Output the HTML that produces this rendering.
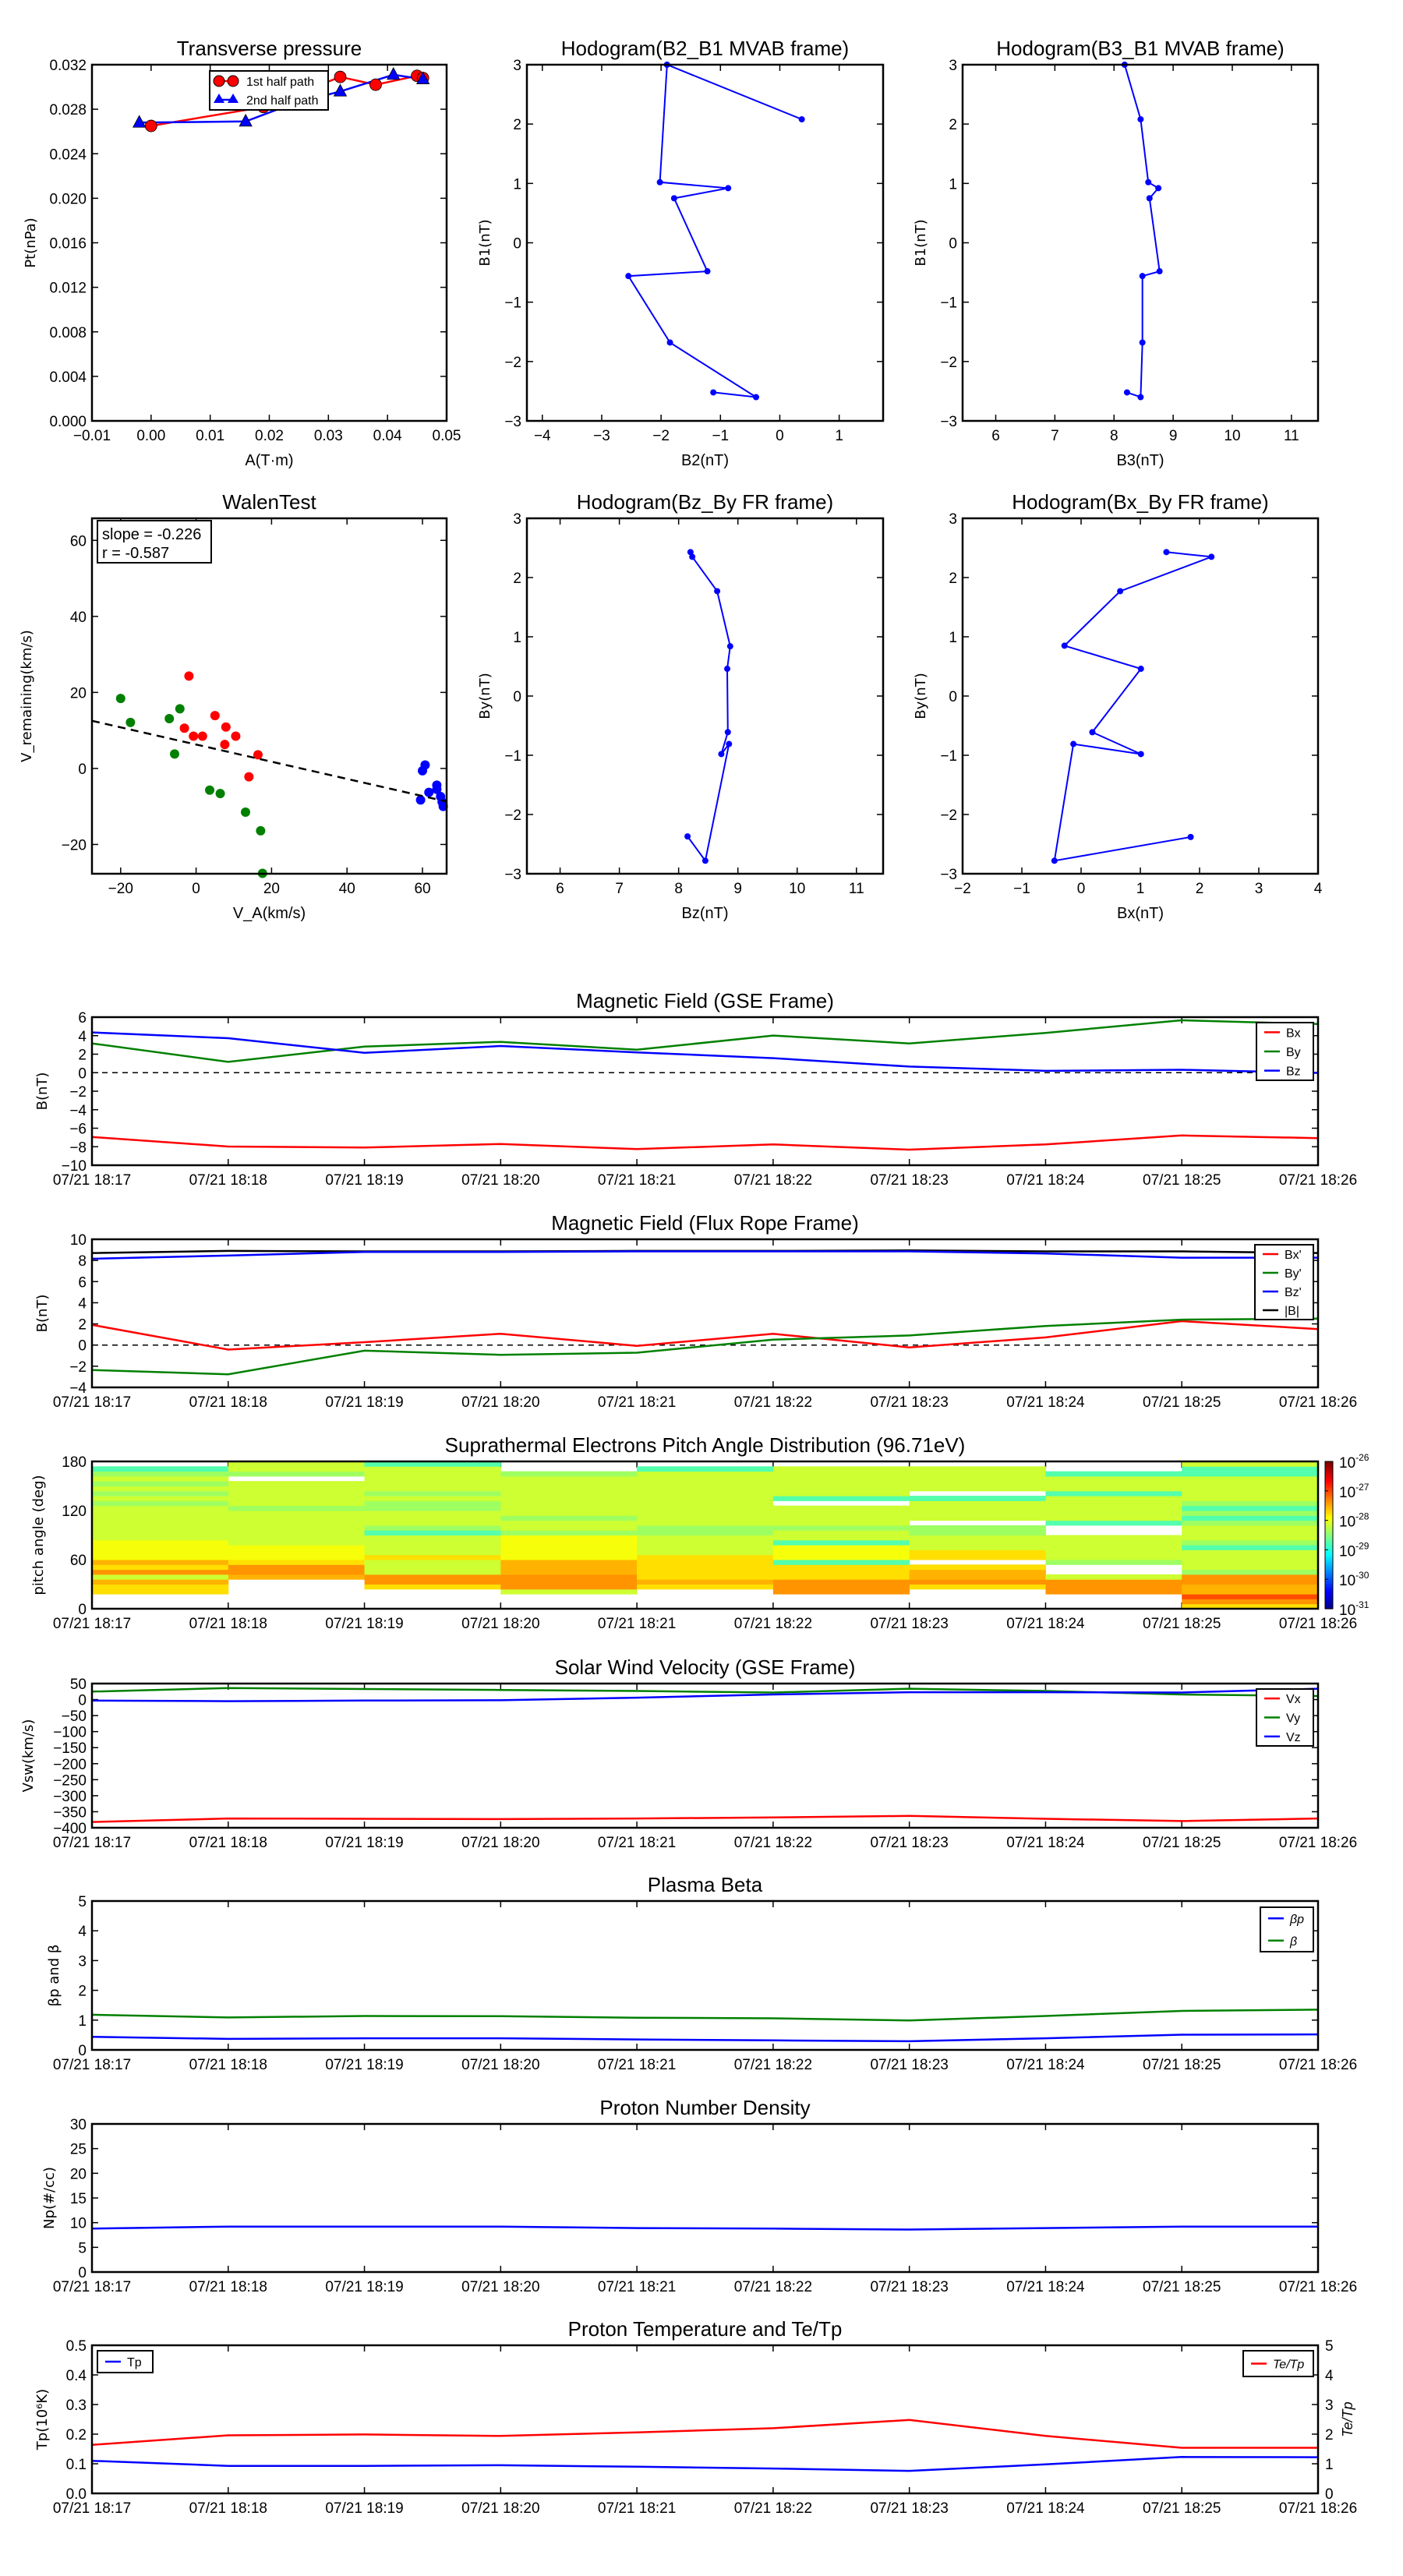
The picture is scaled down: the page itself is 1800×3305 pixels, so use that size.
<!DOCTYPE html>
<html><head><meta charset="utf-8"><style>
body{margin:0;background:#fff}
svg text{font-family:"Liberation Sans Narrow","Liberation Sans",sans-serif;fill:#000}
.yl{font-family:"DejaVu Sans","Liberation Sans",sans-serif}
</style></head><body>
<svg id="s" width="1800" height="3300" xmlns="http://www.w3.org/2000/svg"></svg>
<script>
// ---------- data ----------
const ptA1=[0.000,0.019,0.032,0.038,0.045,0.046];
const ptP1=[0.0265,0.0282,0.0309,0.0302,0.0310,0.0308];
const ptA2=[-0.002,0.016,0.024,0.032,0.041,0.046];
const ptP2=[0.0268,0.0269,0.0285,0.0296,0.0311,0.0307];
const h1B2=[-1.12,-0.4,-1.85,-2.55,-1.22,-1.78,-0.87,-2.02,-1.9,0.37];
const h1B1=[-2.52,-2.6,-1.68,-0.56,-0.48,0.75,0.92,1.02,3.0,2.08];
const h2B3=[8.22,8.45,8.48,8.48,8.77,8.6,8.75,8.58,8.45,8.18];
const h2B1=[-2.52,-2.6,-1.68,-0.56,-0.48,0.75,0.92,1.02,2.08,3.0];
const walRedX=[-1.9,-3.1,-0.7,1.7,5,7.9,7.6,10.5,16.4,14];
const walRedY=[24.3,10.6,8.5,8.5,13.9,10.9,6.3,8.5,3.6,-2.2];
const walGreenX=[-20,-17.4,-7.1,-4.3,-5.7,3.6,6.4,13.1,17.1,17.6];
const walGreenY=[18.4,12.1,13.1,15.7,3.8,-5.7,-6.6,-11.5,-16.4,-27.6];
const walBlueX=[60,60.7,63.8,63.8,61.7,59.5,64.8,65.2,65.5];
const walBlueY=[-0.6,0.9,-4.4,-5.5,-6.3,-8.3,-7.4,-8.8,-10];
const walSlope=-0.226, walIntercept=6.3;
const frBz=[8.2,8.23,8.65,8.87,8.82,8.83,8.72,8.85,8.45,8.15];
const frBy=[2.43,2.35,1.77,0.84,0.46,-0.61,-0.98,-0.81,-2.78,-2.37];
const frBx=[1.44,2.2,0.66,-0.28,1.01,0.19,1.01,-0.13,-0.45,1.85];
const frBxBy=[2.43,2.35,1.77,0.85,0.46,-0.61,-0.98,-0.81,-2.78,-2.38];
const timeLabels=["07/21 18:17","07/21 18:18","07/21 18:19","07/21 18:20","07/21 18:21","07/21 18:22","07/21 18:23","07/21 18:24","07/21 18:25","07/21 18:26"];
const gseBx=[-6.95,-7.98,-8.09,-7.7,-8.26,-7.75,-8.32,-7.75,-6.78,-7.07];
const gseBy=[3.16,1.17,2.82,3.33,2.48,4.01,3.16,4.3,5.66,5.26];
const gseBz=[4.35,3.73,2.14,2.88,2.19,1.57,0.66,0.2,0.32,-0.02];
const fBx=[1.91,-0.43,0.27,1.07,-0.07,1.07,-0.22,0.72,2.26,1.51];
const fBy=[-2.36,-2.76,-0.53,-0.92,-0.72,0.52,0.91,1.81,2.4,2.5];
const fBz=[8.16,8.46,8.81,8.81,8.86,8.86,8.86,8.66,8.26,8.26];
const fBt=[8.7,8.9,8.86,8.86,8.9,8.9,8.95,8.86,8.86,8.7];
const vx=[-382,-371,-372,-373,-371,-368,-363,-372,-379,-371];
const vy=[25,36,33,30,27,22,34,27,16,11];
const vz=[-3,-5,-3,-2,6,16,23,23,22,34];
const betaP=[0.44,0.37,0.39,0.39,0.35,0.32,0.29,0.39,0.51,0.52];
const betaT=[1.18,1.09,1.14,1.13,1.08,1.06,0.99,1.14,1.31,1.35];
const np=[8.8,9.2,9.2,9.2,8.9,8.8,8.6,8.9,9.2,9.2];
const tp=[0.11,0.093,0.093,0.095,0.09,0.084,0.076,0.098,0.123,0.122];
const teTp=[1.64,1.96,1.99,1.94,2.06,2.2,2.48,1.94,1.54,1.54];
// PAD: 30 bins of 6 deg (bottom->top), codes -> log10 flux
const padCols=[
"   YYolOYoyyyylllllllglglglgc ",
"      oOOYyyylllllllglllll gll",
"    YOOlllYllllcglllgglglllllc",
"   lOOOoooyyyyygllgllllllllg  ",
"    YoYYYYYllllgglllllllllllc ",
"   OOOYYYcyyycllgllll cllllll ",
"    YOooY YYlllgg llllc lllll ",
"   OOOl  glllll  clllllclllc  ",
"YOrooOOgllllcglllgcgcglllllccl"];
const padCode={"Y":-27.72,"o":-27.5,"O":-27.35,"r":-27.0,"y":-27.92,"l":-28.12,"g":-28.35,"c":-28.72};
// ---------- helpers ----------
const S=document.getElementById('s');const NS='http://www.w3.org/2000/svg';
function el(t,a,p){const e=document.createElementNS(NS,t);for(const k in a)e.setAttribute(k,a[k]);(p||S).appendChild(e);return e;}
function txt(x,y,s,o){o=o||{};const e=el('text',{x:x,y:y,'font-size':o.size||19,'text-anchor':o.anchor||'middle',fill:o.fill||'#000'},o.parent);if(o.cls)e.setAttribute('class',o.cls);if(o.rot)e.setAttribute('transform','rotate('+o.rot+' '+x+' '+y+')');e.textContent=s;return e;}
function axes(c){
 const g=el('g',{});
 const sx=v=>c.x0+(v-c.xmin)/(c.xmax-c.xmin)*(c.x1-c.x0);
 const sy=v=>c.y1-(v-c.ymin)/(c.ymax-c.ymin)*(c.y1-c.y0);
 c.g=g;c.sx=sx;c.sy=sy;
 const tl=8;
 const xg=el('g',{},g);
 c.xticks.forEach((v,i)=>{const x=sx(v);el('line',{x1:x,x2:x,y1:c.y1,y2:c.y1-tl,stroke:'#000','stroke-width':1.5},xg);el('line',{x1:x,x2:x,y1:c.y0,y2:c.y0+tl,stroke:'#000','stroke-width':1.5},xg);
  const t=txt(x,c.y1+25,c.xlab?c.xlab[i]:fmt(v,c.xdec),{size:c.tsize||19,parent:xg});});
 const yg=el('g',{},g);
 c.yticks.forEach((v,i)=>{const y=sy(v);el('line',{x1:c.x0,x2:c.x0+tl,y1:y,y2:y,stroke:'#000','stroke-width':1.5},yg);el('line',{x1:c.x1,x2:c.x1-tl,y1:y,y2:y,stroke:'#000','stroke-width':1.5},yg);
  const t=txt(c.x0-7,y+7,fmt(v,c.ydec),{size:19,anchor:'end',parent:yg});});
 c.frame=()=>el('rect',{x:c.x0,y:c.y0,width:c.x1-c.x0,height:c.y1-c.y0,fill:'none',stroke:'#000','stroke-width':2.5},g);
 if(c.title){const t=txt((c.x0+c.x1)/2,c.y0-12,c.title,{size:26,parent:g});}
 if(c.xlabel){const t=txt((c.x0+c.x1)/2,c.xly,c.xlabel,{size:20,parent:g});}
 if(c.ylabel){const t=txt(c.ylx,(c.y0+c.y1)/2,c.ylabel,{size:18,rot:-90,cls:'yl',parent:g});}
 return c;}
function fmt(v,d){if(d===undefined)d=0;let s=v.toFixed(d);if(s.startsWith('-'))s='\u2212'+s.slice(1);return s;}
function rng(a,b,st){const r=[];for(let v=a;v<=b+1e-9;v+=st)r.push(+v.toFixed(6));return r;}
function line(c,xs,ys,col,name,w,dash){const p=xs.map((x,i)=>c.sx(x).toFixed(1)+','+c.sy(ys[i]).toFixed(1)).join(' ');const e=el('polyline',{points:p,fill:'none',stroke:col,'stroke-width':w||2.5},c.g);if(dash)e.setAttribute('stroke-dasharray',dash);return e;}
function dots(c,xs,ys,col,r,name,stroke){xs.forEach((x,i)=>{const e=el('circle',{cx:c.sx(x),cy:c.sy(ys[i]),r:r,fill:col,stroke:stroke?'#000':'none','stroke-width':0.8},c.g);});}
function legend(c,x,y,w,h,items){const g=el('g',{},c.g);el('rect',{x:x,y:y,width:w,height:h,fill:'#fff',stroke:'#000','stroke-width':2},g);
 items.forEach((it,i)=>{const yy=y+h/(items.length*2)*(2*i+1);el('line',{x1:x+10,x2:x+30,y1:yy,y2:yy,stroke:it[1],'stroke-width':2.5},g);const t=txt(x+38,yy+6,it[0],{size:16,anchor:'start',parent:g,fill:it[2]||'#000'});if(it[3])t.setAttribute('font-style','italic');});}
// ---------- Row 1 ----------
let c=axes({name:'transverse-pressure-chart',x0:118,x1:573,y0:83,y1:540,xmin:-0.01,xmax:0.05,ymin:0,ymax:0.032,xticks:rng(-0.01,0.05,0.01),xdec:2,yticks:rng(0,0.032,0.004),ydec:3,title:'Transverse pressure',xlabel:'A(T·m)',xly:597,ylabel:'Pt(nPa)',ylx:45});
line(c,ptA1,ptP1,'#f00','first-half-path-line',2.5);line(c,ptA2,ptP2,'#00f','second-half-path-line',2.5);
dots(c,ptA1,ptP1,'#f00',7.5,'first-half-marker',true);
ptA2.forEach((a,i)=>{const x=c.sx(a),y=c.sy(ptP2[i]);const e=el('polygon',{points:`${x},${y-9} ${x-8},${y+6} ${x+8},${y+6}`,fill:'#00f',stroke:'#000','stroke-width':0.8},c.g);});
c.frame();
{const g=el('g',{},c.g);el('rect',{x:269,y:91,width:152,height:50,fill:'#fff',stroke:'#000','stroke-width':2},g);
el('line',{x1:279,x2:301,y1:104,y2:104,stroke:'#f00','stroke-width':2.5},g);el('circle',{cx:281,cy:104,r:7,fill:'#f00',stroke:'#000'},g);el('circle',{cx:299,cy:104,r:7,fill:'#f00',stroke:'#000'},g);
el('line',{x1:279,x2:301,y1:128,y2:128,stroke:'#00f','stroke-width':2.5},g);el('polygon',{points:'281,120 274,132 288,132',fill:'#00f'},g);el('polygon',{points:'299,120 292,132 306,132',fill:'#00f'},g);
let t=txt(316,110,'1st half path',{size:16,anchor:'start',parent:g});
t=txt(316,134,'2nd half path',{size:16,anchor:'start',parent:g});}

c=axes({name:'hodogram-b2-b1-chart',x0:676,x1:1133,y0:83,y1:540,xmin:-4.26,xmax:1.74,ymin:-3,ymax:3,xticks:rng(-4,1,1),yticks:rng(-3,3,1),title:'Hodogram(B2_B1 MVAB frame)',xlabel:'B2(nT)',xly:597,ylabel:'B1(nT)',ylx:628});
line(c,h1B2,h1B1,'#00f','hodogram-line',2);dots(c,h1B2,h1B1,'#00f',4,'hodogram-point');c.frame();
c=axes({name:'hodogram-b3-b1-chart',x0:1235,x1:1691,y0:83,y1:540,xmin:5.44,xmax:11.45,ymin:-3,ymax:3,xticks:rng(6,11,1),yticks:rng(-3,3,1),title:'Hodogram(B3_B1 MVAB frame)',xlabel:'B3(nT)',xly:597,ylabel:'B1(nT)',ylx:1187});
line(c,h2B3,h2B1,'#00f','hodogram-line',2);dots(c,h2B3,h2B1,'#00f',4,'hodogram-point');c.frame();
// ---------- Row 2 ----------
c=axes({name:'walen-test-chart',x0:118,x1:573,y0:665,y1:1121,xmin:-27.6,xmax:66.4,ymin:-27.7,ymax:65.8,xticks:rng(-20,60,20),yticks:rng(-20,60,20),title:'WalenTest',xlabel:'V_A(km/s)',xly:1178,ylabel:'V_remaining(km/s)',ylx:40});
dots(c,walRedX,walRedY,'#f00',6,'walen-red-point');dots(c,walGreenX,walGreenY,'#008000',6,'walen-green-point');dots(c,walBlueX,walBlueY,'#00f',6,'walen-blue-point');
line(c,[-27.6,66.4],[walIntercept+walSlope*-27.6,walIntercept+walSlope*66.4],'#000','walen-fit-line',2.5,'10,7');
c.frame();
{const g=el('g',{},c.g);el('rect',{x:125,y:668,width:146,height:54,fill:'#fff',stroke:'#000','stroke-width':2},g);txt(131,692,'slope = -0.226',{size:20,anchor:'start',parent:g});txt(131,716,'r = -0.587',{size:20,anchor:'start',parent:g});}
c=axes({name:'hodogram-bz-by-chart',x0:676,x1:1133,y0:665,y1:1121,xmin:5.44,xmax:11.45,ymin:-3,ymax:3,xticks:rng(6,11,1),yticks:rng(-3,3,1),title:'Hodogram(Bz_By FR frame)',xlabel:'Bz(nT)',xly:1178,ylabel:'By(nT)',ylx:628});
line(c,frBz,frBy,'#00f','hodogram-line',2);dots(c,frBz,frBy,'#00f',4,'hodogram-point');c.frame();
c=axes({name:'hodogram-bx-by-chart',x0:1235,x1:1691,y0:665,y1:1121,xmin:-2,xmax:4,ymin:-3,ymax:3,xticks:rng(-2,4,1),yticks:rng(-3,3,1),title:'Hodogram(Bx_By FR frame)',xlabel:'Bx(nT)',xly:1178,ylabel:'By(nT)',ylx:1187});
line(c,frBx,frBxBy,'#00f','hodogram-line',2);dots(c,frBx,frBxBy,'#00f',4,'hodogram-point');c.frame();
// ---------- time series ----------
const T=timeLabels.map((_,i)=>i);
function tax(o){return axes(Object.assign({x0:118,x1:1691,xmin:0,xmax:9,xticks:T,xlab:timeLabels,tsize:19},o));}
c=tax({name:'magnetic-field-gse-chart',y0:1305,y1:1495,ymin:-10,ymax:6,yticks:rng(-10,6,2),title:'Magnetic Field (GSE Frame)',ylabel:'B(nT)',ylx:60});
line(c,[0,9],[0,0],'#000','zero-line',1.5,'7,6');
line(c,T,gseBx,'#f00','series-bx');line(c,T,gseBy,'#008000','series-by');line(c,T,gseBz,'#00f','series-bz');c.frame();
legend(c,1612,1312,73,74,[['Bx','#f00'],['By','#008000'],['Bz','#00f']]);
c=tax({name:'magnetic-field-flux-rope-chart',y0:1590,y1:1780,ymin:-4,ymax:10,yticks:rng(-4,10,2),title:'Magnetic Field (Flux Rope Frame)',ylabel:'B(nT)',ylx:60});
line(c,[0,9],[0,0],'#000','zero-line',1.5,'7,6');
line(c,T,fBt,'#000','series-btotal');line(c,T,fBz,'#00f','series-bz-prime');line(c,T,fBx,'#f00','series-bx-prime');line(c,T,fBy,'#008000','series-by-prime');c.frame();
legend(c,1610,1597,75,96,[["Bx'",'#f00'],["By'",'#008000'],["Bz'",'#00f'],['|B|','#000']]);
// PAD heatmap
function jet(t){t=Math.max(0,Math.min(1,t));const r=Math.min(1,Math.max(0,1.5-Math.abs(4*t-3))),g=Math.min(1,Math.max(0,1.5-Math.abs(4*t-2))),b=Math.min(1,Math.max(0,1.5-Math.abs(4*t-1)));return `rgb(${Math.round(r*255)},${Math.round(g*255)},${Math.round(b*255)})`;}
c=tax({name:'pitch-angle-distribution-chart',y0:1875,y1:2064,ymin:0,ymax:180,yticks:rng(0,180,60),title:'Suprathermal Electrons Pitch Angle Distribution (96.71eV)',ylabel:'pitch angle (deg)',ylx:55});
padCols.forEach((col,ci)=>{for(let b=0;b<30;b++){const ch=col[b];if(!ch||ch===' ')continue;const v=padCode[ch];const x0=c.sx(ci),x1=c.sx(ci+1),ya=c.sy(b*6+6),yb=c.sy(b*6);
 const r=el('rect',{x:x0,y:ya,width:x1-x0+0.5,height:yb-ya+0.5,fill:jet((v+31)/5)},c.g);}});
c.frame();
{const g=el('g',{},S);
for(let i=0;i<60;i++){el('rect',{x:1700,y:1875+189*i/60,width:10,height:189/60+0.6,fill:jet(1-i/60)},g);}
el('rect',{x:1700,y:1875,width:10,height:189,fill:'none',stroke:'#000','stroke-width':1},g);
[-26,-27,-28,-29,-30,-31].forEach((p,i)=>{const y=1875+189*i/5;el('line',{x1:1700,x2:1704,y1:y,y2:y,stroke:'#000'},g);const t=el('text',{x:1718,y:y+8,'font-size':19},g);t.innerHTML='10<tspan dy="-9" font-size="12">'+p+'</tspan>';});}
c=tax({name:'solar-wind-velocity-chart',y0:2160,y1:2345,ymin:-400,ymax:50,yticks:rng(-400,50,50),title:'Solar Wind Velocity (GSE Frame)',ylabel:'Vsw(km/s)',ylx:42});
line(c,T,vx,'#f00','series-vx');line(c,T,vy,'#008000','series-vy');line(c,T,vz,'#00f','series-vz');c.frame();
legend(c,1612,2167,73,73,[['Vx','#f00'],['Vy','#008000'],['Vz','#00f']]);
c=tax({name:'plasma-beta-chart',y0:2439,y1:2630,ymin:0,ymax:5,yticks:rng(0,5,1),title:'Plasma Beta',ylabel:'βp and β',ylx:75});
line(c,T,betaP,'#00f','series-beta-p');line(c,T,betaT,'#008000','series-beta');c.frame();
legend(c,1617,2447,68,57,[['βp','#00f',null,1],['β','#008000',null,1]]);
c=tax({name:'proton-density-chart',y0:2725,y1:2915,ymin:0,ymax:30,yticks:rng(0,30,5),title:'Proton Number Density',ylabel:'Np(#/cc)',ylx:69});
line(c,T,np,'#00f','series-np');c.frame();
c=tax({name:'proton-temperature-chart',y0:3009,y1:3199,ymin:0,ymax:0.5,yticks:rng(0,0.5,0.1),ydec:1,title:'Proton Temperature and Te/Tp',ylabel:'Tp(10⁶K)',ylx:60});
line(c,T,tp,'#00f','series-tp');
const sy2=v=>3199-v/5*190;
line({sx:c.sx,sy:sy2,g:c.g},T,teTp,'#f00','series-te-tp');
{const g=el('g',{},c.g);[0,1,2,3,4,5].forEach(v=>{const t=txt(1700,sy2(v)+7,String(v),{size:19,anchor:'start',fill:'#f00',parent:g});});
const t=txt(1735,3104,'Te/Tp',{size:18,rot:-90,fill:'#f00',parent:g});t.setAttribute('font-style','italic');}
c.frame();
legend(c,125,3016,71,28,[['Tp','#00f']]);
legend(c,1595,3016,90,33,[['Te/Tp','#f00',null,1]]);
</script>
</body></html>
